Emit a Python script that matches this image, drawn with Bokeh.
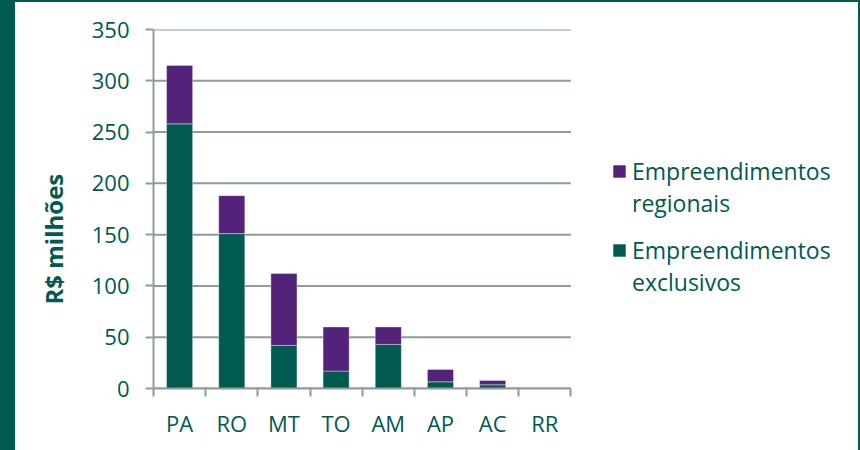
from bokeh.plotting import figure
from bokeh.models import (ColumnDataSource, Range1d, FixedTicker, LinearAxis,
                          Legend, LegendItem, Title)
from bokeh.embed import file_html
from bokeh.resources import INLINE

# ---- data ----
states = ["PA", "RO", "MT", "TO", "AM", "AP", "AC", "RR"]
exclusivos = [258, 151, 42, 17, 43, 6.5, 3.6, 0]
regionais = [57, 37, 70, 43, 17, 12, 4.2, 0]
y_ticks = [0, 50, 100, 150, 200, 250, 300, 350]
y_title = "R$ milhões"
legend_labels = ["\nEmpreendimentos\nregionais", "\nEmpreendimentos\nexclusivos"]

TEAL = "#005A4F"
PURPLE = "#53237A"
GRID = "#8E9D99"
FONT = "Open Sans"

n = len(states)
xs = [i + 0.5 for i in range(n)]
src = ColumnDataSource(dict(x=xs, exclusivos=exclusivos, regionais=regionais))

# plot frame is widened to the right so the legend sits inside it;
# the category area occupies 418 of its 698 px
p = figure(width=860, height=450, output_backend="svg", toolbar_location=None,
           x_range=Range1d(0, n * 698 / 418), y_range=Range1d(0, 350),
           x_axis_type=None, y_axis_type=None,
           min_border_left=137, min_border_right=25, min_border_top=27,
           min_border_bottom=64,
           styles={"border-left": f"15px solid {TEAL}",
                   "border-top": f"2px solid {TEAL}",
                   "border-right": f"2px solid {TEAL}",
                   "overflow": "hidden"})
p.outline_line_color = None
p.background_fill_color = "white"
p.border_fill_color = "white"
p.xgrid.visible = False
p.ygrid.visible = False

# horizontal gridlines over the category area only
p.segment(x0=[0] * len(y_ticks), x1=[n] * len(y_ticks), y0=y_ticks, y1=y_ticks,
          line_color=GRID, line_width=2)

rs = p.vbar_stack(["exclusivos", "regionais"], x="x", width=0.5, source=src,
                  color=[TEAL, PURPLE], line_color="white", line_width=0.6,
                  line_alpha=0.6)

# y axis
yax = LinearAxis(ticker=FixedTicker(ticks=y_ticks))
yax.axis_line_color = GRID
yax.axis_line_width = 2
yax.major_tick_line_color = GRID
yax.major_tick_line_width = 2
yax.major_tick_in = 0
yax.major_tick_out = 8
yax.minor_tick_line_color = None
yax.major_label_standoff = 16
yax.major_label_text_font = FONT
yax.major_label_text_font_size = "22px"
yax.major_label_text_color = TEAL
p.add_layout(yax, "left")

# x axis
xax = LinearAxis(ticker=FixedTicker(ticks=xs, minor_ticks=list(range(n + 1))),
                 bounds=(0, n))
xax.major_label_overrides = {x: s for x, s in zip(xs, states)}
xax.axis_line_color = GRID
xax.axis_line_width = 2
xax.major_tick_line_color = None
xax.major_tick_in = 0
xax.major_tick_out = 0
xax.minor_tick_line_color = GRID
xax.minor_tick_line_width = 2
xax.minor_tick_in = 0
xax.minor_tick_out = 8
xax.major_label_standoff = 11
xax.major_label_text_font = FONT
xax.major_label_text_font_size = "22px"
xax.major_label_text_color = TEAL
p.add_layout(xax, "below")

# y axis title
p.add_layout(Title(text=y_title, align="left", offset=84, vertical_align="bottom",
                   standoff=38, text_font=FONT, text_font_style="bold",
                   text_font_size="24px", text_color=TEAL), "left")

def make_legend(label, renderer, vy):
    return Legend(items=[LegendItem(label=label, renderers=[renderer])],
                  location=(458, vy), padding=0, margin=0, spacing=0,
                  glyph_width=16, glyph_height=16, label_standoff=5,
                  border_line_color=None, background_fill_alpha=0,
                  label_text_font=FONT, label_text_font_size="23px",
                  label_text_color=TEAL)

p.add_layout(make_legend(legend_labels[0], rs[1], 169), "center")
p.add_layout(make_legend(legend_labels[1], rs[0], 90), "center")

open("out.html", "w").write(file_html(p, INLINE))
